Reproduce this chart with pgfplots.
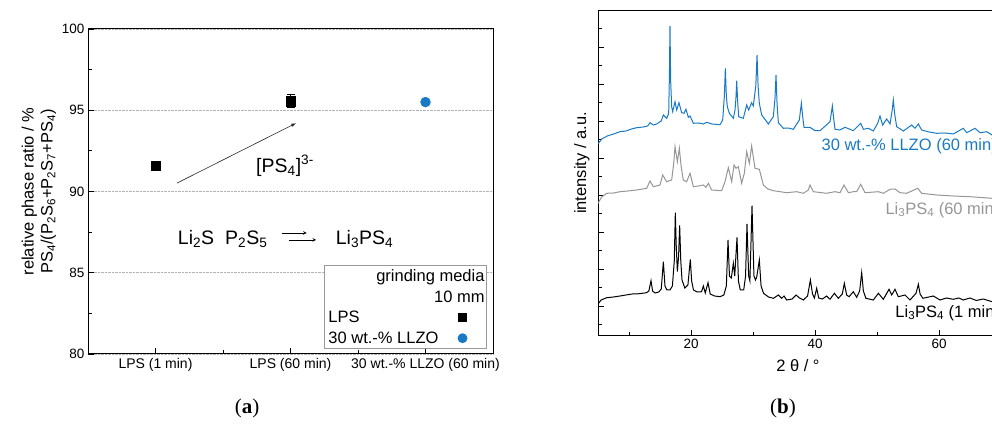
\documentclass[border=0pt]{standalone}
\usepackage{pgfplots}
\pgfplotsset{compat=1.18}
\usepackage{fontspec}
\setmainfont{Liberation Sans}
\newfontfamily\capfont{Liberation Serif}
\definecolor{lblue}{RGB}{24,122,196}
\definecolor{lgray}{RGB}{150,150,150}
\newcommand{\fs}[1]{\fontsize{#1}{#1}\selectfont}
\newcommand{\lab}{\fontsize{16.5}{19}\selectfont}
\begin{document}
\begin{tikzpicture}
% ---------------- panel (a)
\begin{axis}[
  at={(88pt,71pt)}, anchor=south west, scale only axis,
  width=405pt, height=325pt,
  xmin=0.5, xmax=3.5, ymin=80, ymax=100,
  xtick={1,2,3},
  xticklabels={LPS (1 min), LPS (60 min), 30 wt.-\% LLZO (60 min)},
  minor xtick={1.5,2.5},
  ytick={80,85,...,100}, minor ytick={82.5,87.5,92.5,97.5},
  xtick pos=bottom, ytick pos=left, tick align=inside,
  major tick length=6pt, minor tick length=4pt,
  every tick/.style={black, line width=0.8pt},
  axis line style={line width=1pt},
  ymajorgrids, grid style={densely dotted, black!30, line width=0.7pt},
  /pgf/number format/assume math mode=true,
  xticklabel style={font=\fs{14}, yshift=-1pt},
  yticklabel style={font=\fs{13.5}},
  ylabel={\lab relative phase ratio / \%\\\lab PS\textsubscript{4}/(P\textsubscript{2}S\textsubscript{6}+P\textsubscript{2}S\textsubscript{7}+PS\textsubscript{4})},
  ylabel style={align=center, font=\lab, yshift=-1pt},
  legend style={at={(rel axis cs:0.985,0.015)}, anchor=south east,
    draw=black!40, line width=0.8pt, font=\fs{16.5},
    inner xsep=2pt, inner ysep=2pt, row sep=3.5pt, column sep=14pt},
  legend cell align=left, legend plot pos=right,
]
\addlegendimage{empty legend}
\addlegendentry{\hphantom{30 wt.-\% LLZO}\llap{grinding media\kern-46pt}}
\addlegendimage{empty legend}
\addlegendentry{\hphantom{30 wt.-\% LLZO}\llap{10 mm\kern-46pt}}
\addplot[only marks, mark=square*, mark size=4.7pt, black,
  legend image code/.code={\path[draw=none,fill=none] (0pt,-4pt) rectangle (30pt,4pt); \draw[only marks, mark=square*, mark size=4pt, black] plot coordinates {(8pt,0pt)};},
  error bars/.cd, y dir=both, y explicit, error bar style={line width=1pt}, error mark options={rotate=90, mark size=4pt, line width=1pt}]
coordinates {(1,91.6) +- (0,0) (2,95.56) +- (0,0.38)};
\addlegendentry{LPS}
\addplot[only marks, mark=*, mark size=5pt, lblue, mark options={draw=lblue, fill=lblue},
  legend image code/.code={\path[draw=none,fill=none] (0pt,-4pt) rectangle (30pt,4pt); \draw[only marks, mark=*, mark size=4.5pt, lblue, fill=lblue] plot coordinates {(8pt,0pt)};}]
coordinates {(3,95.5)};
\addlegendentry{30 wt.-\% LLZO}
\draw[-latex, line width=0.6pt, black!85] (axis cs:1.16,90.52) -- (axis cs:2.04,94.2);
\node[anchor=west, font=\fs{19.5}] at (axis cs:1.72,91.57) {[PS\textsubscript{4}]\textsuperscript{3-}};
\node[anchor=west, font=\fs{19.5}] at (axis cs:1.14,87.08) {Li\textsubscript{2}S};
\node[anchor=west, font=\fs{19.5}] at (axis cs:1.49,87.08) {P\textsubscript{2}S\textsubscript{5}};
\node[anchor=west, font=\fs{19.5}] at (axis cs:2.31,87.08) {Li\textsubscript{3}PS\textsubscript{4}};
\draw[-stealth, line width=0.6pt] (axis cs:1.94,87.45) -- (axis cs:2.12,87.45);
\draw[-stealth, line width=0.6pt] (axis cs:1.99,87.02) -- (axis cs:2.19,87.02);
\end{axis}
% ---------------- panel (b)
\begin{axis}[
  at={(598pt,89pt)}, anchor=south west, scale only axis,
  width=465pt, height=325pt,
  xmin=5, xmax=80, ymin=0, ymax=325,
  xtick={20,40,60,80}, minor xtick={10,30,50,70},
  ytick={30,67,104,141,178,215,252,289}, yticklabels={},
  minor ytick={11.5,48.5,85.5,122.5,159.5,196.5,233.5,270.5,307.5},
  xtick pos=bottom, ytick pos=left, tick align=inside,
  major tick length=6pt, minor tick length=3.5pt,
  every tick/.style={black, line width=0.8pt},
  axis line style={line width=1pt},
  /pgf/number format/assume math mode=true,
  xticklabel style={font=\fs{13.5}},
  xlabel={\lab 2 θ / °},
  xlabel style={font=\lab, at={(ticklabel cs:0.43)}, anchor=north, yshift=-4pt},
  ylabel={\lab intensity / a.u.},
  ylabel style={font=\lab, at={(ticklabel cs:0.532)}, yshift=-2pt},
]
\addplot[lblue, line width=1pt] coordinates {
(5.0,192) (5.6,197) (6.5,200) (7.5,202) (8.55,204.3) (9.5,205) (10.4,207) (11.24,208.3) (12.3,209) (13.0,210) (13.39,213.3) (13.92,211) (14.46,212) (15.2,215) (15.54,221) (16.08,217.7) (16.40,222.7) (16.52,262) (16.61,310) (16.72,255) (16.88,229.3) (17.04,224.3) (17.42,234.3) (17.69,226) (18.06,233.3) (18.49,223.3) (18.87,222.7) (19.19,226.7) (19.57,218.7) (19.84,220) (20.38,212.7) (21.2,213) (22.0,212) (22.53,213.7) (23.4,212) (24.68,211.3) (25.11,216) (25.38,240) (25.54,267.7) (25.70,240) (25.86,229.3) (26.18,222.7) (26.83,217.7) (27.10,226) (27.25,238) (27.37,255.3) (27.52,235) (27.69,219.3) (28.44,217.7) (28.98,231) (29.30,226) (29.78,233.3) (30.05,230) (30.45,250) (30.65,281) (30.82,250) (31.02,232.7) (31.40,221) (32.10,215.3) (32.47,212) (33.28,219.3) (33.55,238) (33.71,261) (33.88,232) (34.09,213.3) (34.89,207.7) (35.7,208) (36.51,206.7) (37.47,216) (37.80,232.7) (38.0,220) (38.23,208.7) (39.19,208.7) (40.00,205.3) (40.81,205.3) (42.42,214.3) (42.80,230) (43.0,218) (43.23,206.7) (44.0,206) (44.84,208.7) (46.18,205.3) (47.37,212.7) (47.80,206.7) (48.60,207.7) (49.41,205) (50.11,212.7) (50.48,220) (50.91,211) (51.56,217) (52.10,212) (52.45,226) (52.63,236) (52.85,222) (53.17,209.3) (54.25,205) (55.59,211) (56.13,207.7) (56.67,212) (57.20,206) (58.4,204) (59.62,202.7) (61.0,203) (62.31,202) (63.92,207.7) (64.46,203.3) (65.81,207.7) (66.61,203.3) (67.69,204.3) (68.55,201) (72,201) (76,200) (80,200)};
\addplot[lgray, line width=1pt] coordinates {
(5.0,132.7) (5.6,139) (6.40,142.7) (7.5,143) (8.55,144.3) (9.8,145) (11.24,146) (12.85,147.7) (13.39,155) (13.92,149.3) (15.00,151) (15.43,161) (16.08,154.3) (16.88,156) (17.2,172) (17.42,189.3) (17.80,174.3) (18.12,187.7) (18.4,170) (18.76,156) (19.30,154.3) (19.84,162.7) (20.38,149.3) (21.2,150) (21.99,151) (22.42,148.7) (22.80,152.7) (23.33,146) (24.95,145.3) (25.48,154.3) (26.02,168.3) (26.56,154.3) (26.94,171) (27.26,167.7) (27.63,169.3) (28.17,152.7) (28.60,162.7) (28.98,184.3) (29.41,172.7) (29.78,190) (30.32,167.7) (31.02,166.7) (31.67,151) (32.4,147) (33.28,145.3) (35.43,143.3) (37.04,144.3) (38.12,142.7) (38.92,146) (39.19,151) (39.73,144.3) (41.88,142.7) (43.23,144.3) (44.03,143.3) (44.68,151) (45.38,143.3) (46.18,144.3) (46.72,144.3) (47.37,151.7) (48.06,143.3) (50.22,144.3) (51.02,142.7) (52.10,146.7) (52.90,147) (53.71,143.3) (54.78,142.7) (56.56,147.7) (57.20,142.7) (59.62,141) (62.31,140) (64.99,139.3) (68.55,137.7) (74,137) (80,137)};
\addplot[black, line width=1pt] coordinates {
(5.0,32) (5.5,36) (6.4,38.3) (7.5,39) (8.55,40) (9.5,41) (10.5,42) (11.24,42) (12.85,43.3) (13.2,45) (13.55,55.3) (13.8,45) (14.2,43) (14.8,44) (15.2,47) (15.54,74.3) (15.8,50) (16.1,46) (16.6,46) (17.0,50) (17.3,75) (17.47,123.3) (17.62,90) (17.8,64.3) (18.0,80) (18.17,110.7) (18.35,75) (18.55,56) (19.0,48) (19.5,51) (19.89,76.7) (20.1,55) (20.4,46) (21.0,44) (21.7,44.3) (21.99,50) (22.3,43) (22.74,53.3) (23.1,42) (23.8,40) (24.68,39.3) (25.3,41) (25.7,50) (25.97,96) (26.2,60) (26.5,58) (26.83,72.7) (27.05,60) (27.42,98.7) (27.65,55) (27.95,46) (28.5,46) (28.8,60) (29.03,112) (29.3,60) (29.5,55) (29.84,130.3) (30.15,60) (30.4,56) (30.6,59) (31.02,76) (31.3,50) (31.7,42.7) (32.5,39) (33.3,37.7) (34.09,41) (34.62,37.7) (35.0,40) (35.43,36) (36.3,37) (36.94,41) (37.5,38) (38.12,36) (38.8,40) (39.25,56) (39.6,42) (39.9,38) (40.27,47.7) (40.6,38) (41.2,37) (41.88,40) (42.42,36.7) (43.12,42.7) (43.76,37.7) (44.4,42) (44.73,52.7) (45.1,41) (45.5,39.3) (46.18,44.3) (46.72,38.7) (47.2,45) (47.53,63.3) (47.8,45) (48.2,37.7) (49.41,36) (50.22,42.7) (51.02,36.7) (51.94,46.7) (52.37,41) (52.9,46.7) (53.44,39.3) (54.52,41) (55.32,36) (56.29,42.7) (56.67,51.7) (56.95,42) (57.4,37.7) (59.09,40) (60.16,36) (61.2,38) (62.31,36.7) (63.2,38) (63.92,36) (65.0,38) (66.0,35.5) (67.15,37) (68.55,34.3) (74,34) (80,34)};
\node[anchor=west, font=\fs{16.5}, text=lblue] at (axis cs:40.5,190) {30 wt.-\% LLZO (60 min)};
\node[anchor=west, font=\fs{16.5}, text=lgray] at (axis cs:50.8,126) {Li\textsubscript{3}PS\textsubscript{4} (60 min)};
\node[anchor=west, font=\fs{16.5}, text=black] at (axis cs:52.4,23) {Li\textsubscript{3}PS\textsubscript{4} (1 min)};
\end{axis}
\node[font=\capfont\fs{21}] at (247pt,17pt) {(\textbf{a})};
\node[font=\capfont\fs{21}] at (783pt,17pt) {(\textbf{b})};
\pgfresetboundingbox
\useasboundingbox (0pt,0pt) rectangle (992pt,425pt);
\end{tikzpicture}
\end{document}
